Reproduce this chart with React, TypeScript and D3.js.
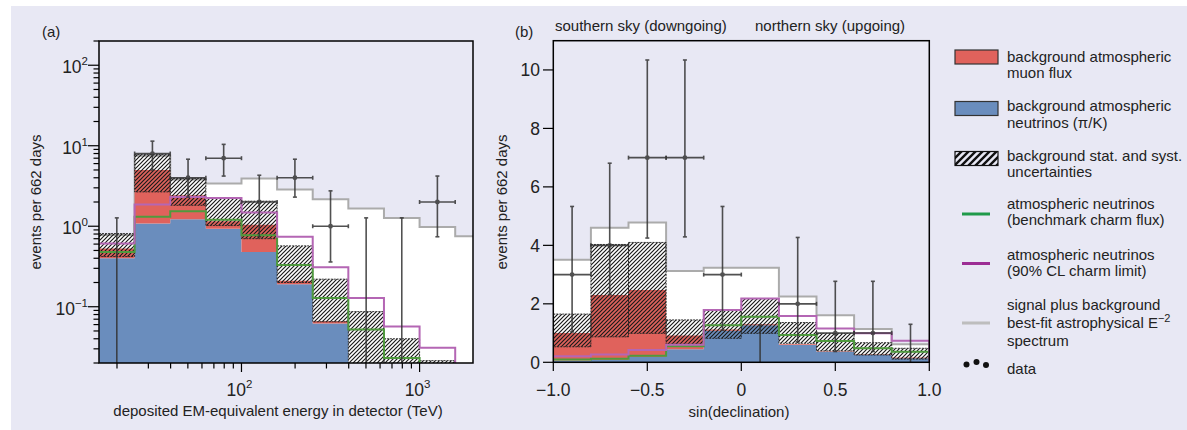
import React from 'react';
import * as d3 from 'd3';

// panel (a): deposited energy bins (TeV), 0.2 decade wide
const aEdges = [15.85, 25.12, 39.81, 63.1, 100, 158.5, 251.2, 398.1, 631, 1000, 1585, 2512];
const aBlue = [0.40, 1.08, 1.22, 0.93, 0.48, 0.19, 0.062, 0.015, 0.006, 0.002];
const aBkg = [0.53, 5.0, 2.43, 1.15, 1.04, 0.21, 0.066, 0.017, 0.007, 0.0025];
const aHatchLo = [0.42, 2.67, 1.82, 1.02, 0.70, 0.20, 0.065, 0.01, 0.004, 0.001];
const aHatchHi = [0.81, 7.8, 3.93, 2.25, 2.05, 0.57, 0.22, 0.087, 0.040, 0.0214];
const aGreen = [0.48, 1.31, 1.54, 1.20, 0.77, 0.33, 0.128, 0.052, 0.023, 0.012];
const aMagenta = [0.61, 1.86, 2.30, 2.25, 1.48, 0.74, 0.31, 0.128, 0.057, 0.031];
const aGray = [0.78, 7.5, 3.8, 3.4, 3.93, 2.86, 2.17, 1.66, 1.27, 0.98, 0.75];
const aData = [0, 8, 4, 7, 2, 4, 1, 0, 0, 2];
const aDataLo = [0, 5.0, 2.3, 4.2, 0.74, 2.3, 0.36, 0, 0, 0.74];
const aDataHi = [1.27, 11.4, 6.8, 10.4, 4.3, 6.8, 2.75, 1.27, 1.27, 4.2];

// panel (b): sin(declination) bins
const bEdges = [-1, -0.8, -0.6, -0.4, -0.2, 0, 0.2, 0.4, 0.6, 0.8, 1];
const bBlue = [0.06, 0.08, 0.18, 0.45, 1.08, 1.27, 0.59, 0.36, 0.25, 0.14];
const bBkg = [1.0, 2.3, 2.47, 0.92, 1.12, 1.30, 0.62, 0.38, 0.27, 0.16];
const bHatchLo = [0.53, 0.87, 0.99, 0.62, 0.82, 0.99, 0.65, 0.39, 0.25, 0.11];
const bHatchHi = [1.65, 4.03, 4.1, 1.45, 1.79, 2.18, 1.36, 0.99, 0.67, 0.48];
const bGreen = [0.10, 0.12, 0.22, 0.55, 1.27, 1.56, 0.93, 0.73, 0.48, 0.36];
const bMagenta = [0.21, 0.27, 0.42, 0.60, 1.79, 2.18, 1.58, 1.16, 0.99, 0.74];
const bGray = [3.51, 4.6, 4.78, 3.12, 3.23, 3.23, 2.25, 1.61, 1.14, 0.62];
const bData = [3, 4, 7, 7, 3, 0, 2, 1, 1, 0];
const bDataLo = [1.04, 2.32, 4.25, 4.29, 1.1, 0, 0.70, 0.37, 0.37, 0];
const bDataHi = [5.33, 6.81, 10.34, 10.34, 5.33, 1.27, 4.27, 2.77, 2.77, 1.3];

const bYTicks = [0, 2, 4, 6, 8, 10];
const bXTicks = [-1, -0.5, 0, 0.5, 1];
const bXLabels = ['−1.0', '−0.5', '0', '0.5', '1.0'];

const FONT = 'Liberation Sans, Arial, sans-serif';
const BLUE = '#6a8dbd';
const RED = '#e0625c';
const GREEN = '#4f9a3e';
const MAGENTA = '#b466b4';
const GRAY = '#ababab';
const INK = '#333';

const stepPath = (edges, vals, x, y, dropEnd?) => {
  let d = '';
  vals.forEach((v, i) => {
    const yy = y(v);
    d += (i === 0 ? `M${x(edges[i])},${yy}` : `V${yy}`) + `H${x(edges[i + 1])}`;
  });
  if (dropEnd) d += `V${dropEnd}`;
  return d;
};

// filled region between an upper step curve and a lower one (or a flat floor)
const areaPath = (edges, top, low, x, y, floor) => {
  const n = top.length;
  let d = `M${x(edges[0])},${low ? y(low[0]) : floor}`;
  for (let i = 0; i < n; i++) d += `V${y(top[i])}H${x(edges[i + 1])}`;
  if (low) {
    for (let i = n - 1; i >= 0; i--) d += `V${y(low[i])}H${x(edges[i])}`;
  } else {
    d += `V${floor}`;
  }
  return d + 'Z';
};

const Histo = ({ id, edges, x, y, bottom, blue, bkg, lo, hi, green, magenta, gray, data, dLo, dHi, left, right, top }) => {
  const yv = (v) => Math.min(y(v), bottom + 20);
  return (
    <g>
      <clipPath id={id}>
        <rect x={left} y={top} width={right - left} height={bottom - top} />
      </clipPath>
      <g clipPath={`url(#${id})`}>
        <path d={areaPath(edges, gray, null, x, yv, bottom + 2)} fill="#fff" />
        <path d={stepPath(edges, gray, x, yv)} fill="none" stroke={GRAY} strokeWidth={2} />
        <path d={areaPath(edges, blue, null, x, yv, bottom + 2)} fill={BLUE} />
        <path d={areaPath(edges, bkg, blue, x, yv, 0)} fill={RED} />
        {hi.map((v, i) => (
          <rect key={'h' + i} x={x(edges[i])} y={yv(v)} width={x(edges[i + 1]) - x(edges[i])} height={Math.max(0, yv(lo[i]) - yv(v))}
            fill="url(#hatch)" stroke="#222" strokeWidth={0.9} strokeDasharray="2,1" />
        ))}
        <path d={stepPath(edges, green, x, yv, bottom + 5)} fill="none" stroke={GREEN} strokeWidth={2} />
        <path d={stepPath(edges, magenta, x, yv, bottom + 5)} fill="none" stroke={MAGENTA} strokeWidth={2} />
        {data.map((v, i) => {
          const x0 = x(edges[i]);
          const x1 = x(edges[i + 1]);
          const xc = (x0 + x1) / 2;
          const yHi = y(dHi[i]);
          if (v === 0) {
            return (
              <g key={'d' + i} stroke={INK} strokeWidth={1.6} opacity={0.85}>
                <line x1={xc} x2={xc} y1={yHi} y2={bottom} />
                <line x1={xc - 2} x2={xc + 2} y1={yHi} y2={yHi} />
              </g>
            );
          }
          const yc = y(v);
          const yLo = y(dLo[i]);
          return (
            <g key={'d' + i} stroke={INK} strokeWidth={1.6} opacity={0.85}>
              <line x1={xc} x2={xc} y1={yHi} y2={yLo} />
              <line x1={xc - 2} x2={xc + 2} y1={yHi} y2={yHi} />
              <line x1={xc - 2} x2={xc + 2} y1={yLo} y2={yLo} />
              <line x1={x0} x2={x1} y1={yc} y2={yc} />
              <line x1={x0} x2={x0} y1={yc - 2} y2={yc + 2} />
              <line x1={x1} x2={x1} y1={yc - 2} y2={yc + 2} />
              <circle cx={xc} cy={yc} r={2.4} fill={INK} stroke="none" />
            </g>
          );
        })}
      </g>
      <rect x={left} y={top} width={right - left} height={bottom - top} fill="none" stroke="#000" strokeWidth={1.5} />
    </g>
  );
};

const App = () => {
  // panel (a) scales
  const xa = d3.scaleLog().domain([15.85, 1995]).range([99, 473]);
  const ya = d3.scaleLog().domain([0.02, 200]).range([363, 41]);
  // panel (b) scales
  const xb = d3.scaleLinear().domain([-1, 1]).range([553.3, 929.3]);
  const yb = d3.scaleLinear().domain([0, 11]).range([362.3, 40.7]);

  const isPow10 = (t) => Math.abs(Math.log10(t) - Math.round(Math.log10(t))) < 1e-6;
  const expLabel = (t) => {
    const e = Math.round(Math.log10(t));
    return e < 0 ? '−' + Math.abs(e) : String(e);
  };

  const legendText = { fontFamily: FONT, fontSize: 15, fill: '#222' };

  return (
    <div style={{ position: 'absolute', left: 0, top: 0 }}>
      <svg width={1187} height={430} style={{ display: 'block' }}>
        <defs>
          <pattern id="hatch" width={4} height={4} patternUnits="userSpaceOnUse">
            <path d="M-1,1 L1,-1 M0,4 L4,0 M3,5 L5,3" stroke="#1a1a1a" strokeWidth={1.2} />
          </pattern>
          <pattern id="hatchBig" width={7} height={7} patternUnits="userSpaceOnUse">
            <path d="M-2,2 L2,-2 M0,7 L7,0 M5,9 L9,5" stroke="#111" strokeWidth={2.4} />
          </pattern>
        </defs>
        <rect x={0} y={0} width={1187} height={430} fill="#fff" />
        <rect x={11} y={6} width={1176} height={424} fill="#e8e8f4" />

        {/* panel (a) */}
        <Histo id="clipA" edges={aEdges} x={xa} y={ya} bottom={363} left={99} right={473} top={41}
          blue={aBlue} bkg={aBkg} lo={aHatchLo} hi={aHatchHi} green={aGreen} magenta={aMagenta}
          gray={aGray} data={aData} dLo={aDataLo} dHi={aDataHi} />
        {ya.ticks().map((t, i) => (
          <line key={'ya' + i} x1={99 - (isPow10(t) ? 11 : 5.5)} x2={99} y1={ya(t)} y2={ya(t)} stroke="#000" strokeWidth={1.2} />
        ))}
        {ya.ticks().filter(isPow10).map((t, i) => (
          <text key={'yal' + i} x={88} y={ya(t) + 8} textAnchor="end" fontFamily={FONT} fontSize={17.5} fill="#222">
            10<tspan dy={-8} fontSize={11.5}>{expLabel(t)}</tspan>
          </text>
        ))}
        {xa.ticks().map((t, i) => (
          <line key={'xa' + i} x1={xa(t)} x2={xa(t)} y1={363} y2={363 + (isPow10(t) ? 9 : 5.5)} stroke="#000" strokeWidth={1.2} />
        ))}
        {xa.ticks().filter(isPow10).map((t, i) => (
          <text key={'xal' + i} x={xa(t) - 2} y={396} textAnchor="middle" fontFamily={FONT} fontSize={17.5} fill="#222">
            10<tspan dy={-8} fontSize={11.5}>{expLabel(t)}</tspan>
          </text>
        ))}
        <text x={278} y={416} textAnchor="middle" fontFamily={FONT} fontSize={15} fill="#222">
          deposited EM-equivalent energy in detector (TeV)
        </text>
        <text transform="translate(41,202) rotate(-90)" textAnchor="middle" fontFamily={FONT} fontSize={15} fill="#222">
          events per 662 days
        </text>
        <text x={42} y={37} fontFamily={FONT} fontSize={15} fill="#222">(a)</text>

        {/* panel (b) */}
        <Histo id="clipB" edges={bEdges} x={xb} y={yb} bottom={362.3} left={553.3} right={929.3} top={40.7}
          blue={bBlue} bkg={bBkg} lo={bHatchLo} hi={bHatchHi} green={bGreen} magenta={bMagenta}
          gray={bGray} data={bData} dLo={bDataLo} dHi={bDataHi} />
        {bYTicks.map((t) => (
          <g key={'yb' + t}>
            <line x1={543} x2={553.3} y1={yb(t)} y2={yb(t)} stroke="#000" strokeWidth={1.2} />
            <text x={540} y={yb(t) + 6.5} textAnchor="end" fontFamily={FONT} fontSize={17.5} fill="#222">{t}</text>
          </g>
        ))}
        {bXTicks.map((t, i) => (
          <g key={'xb' + t}>
            <line x1={xb(t)} x2={xb(t)} y1={362.3} y2={371} stroke="#000" strokeWidth={1.2} />
            <text x={xb(t)} y={396} textAnchor="middle" fontFamily={FONT} fontSize={17.5} fill="#222">{bXLabels[i]}</text>
          </g>
        ))}
        <text x={739} y={417} textAnchor="middle" fontFamily={FONT} fontSize={15} fill="#222">sin(declination)</text>
        <text transform="translate(507,202) rotate(-90)" textAnchor="middle" fontFamily={FONT} fontSize={15} fill="#222">
          events per 662 days
        </text>
        <text x={515} y={37} fontFamily={FONT} fontSize={15} fill="#222">(b)</text>
        <text x={555} y={30.5} fontFamily={FONT} fontSize={15} fill="#222">southern sky (downgoing)</text>
        <text x={755} y={30.5} fontFamily={FONT} fontSize={15} fill="#222">northern sky (upgoing)</text>

        {/* legend */}
        <rect x={955} y={50} width={43} height={14} fill={RED} stroke="#333" strokeWidth={1.2} />
        <text x={1007} y={61.5} {...legendText}>background atmospheric</text>
        <text x={1007} y={77.5} {...legendText}>muon flux</text>

        <rect x={955} y={101.5} width={43} height={14} fill={BLUE} stroke="#333" strokeWidth={1.2} />
        <text x={1007} y={111} {...legendText}>background atmospheric</text>
        <text x={1007} y={127.5} {...legendText}>neutrinos (π/K)</text>

        <rect x={955} y={151.5} width={43} height={14} fill="url(#hatchBig)" stroke="#111" strokeWidth={1.2} />
        <text x={1007} y={161} {...legendText}>background stat. and syst.</text>
        <text x={1007} y={177} {...legendText}>uncertainties</text>

        <line x1={962} x2={990} y1={214} y2={214} stroke="#1f9a4a" strokeWidth={3} />
        <text x={1007} y={208.5} {...legendText}>atmospheric neutrinos</text>
        <text x={1007} y={225} {...legendText}>(benchmark charm flux)</text>

        <line x1={962} x2={990} y1={263.5} y2={263.5} stroke="#9c2d94" strokeWidth={3} />
        <text x={1007} y={259.5} {...legendText}>atmospheric neutrinos</text>
        <text x={1007} y={276} {...legendText}>(90% CL charm limit)</text>

        <line x1={962} x2={990} y1={323} y2={323} stroke="#bdbdbd" strokeWidth={3} />
        <text x={1007} y={309.5} {...legendText}>signal plus background</text>
        <text x={1007} y={328} {...legendText}>
          best-fit astrophysical E<tspan dy={-6} fontSize={11}>−2</tspan>
        </text>
        <text x={1007} y={345.5} {...legendText}>spectrum</text>

        <circle cx={966.5} cy={364.5} r={3} fill="#111" />
        <circle cx={976.5} cy={362} r={3} fill="#111" />
        <circle cx={986} cy={365} r={3} fill="#111" />
        <text x={1007} y={373.5} {...legendText}>data</text>
      </svg>
    </div>
  );
};

export default App;
